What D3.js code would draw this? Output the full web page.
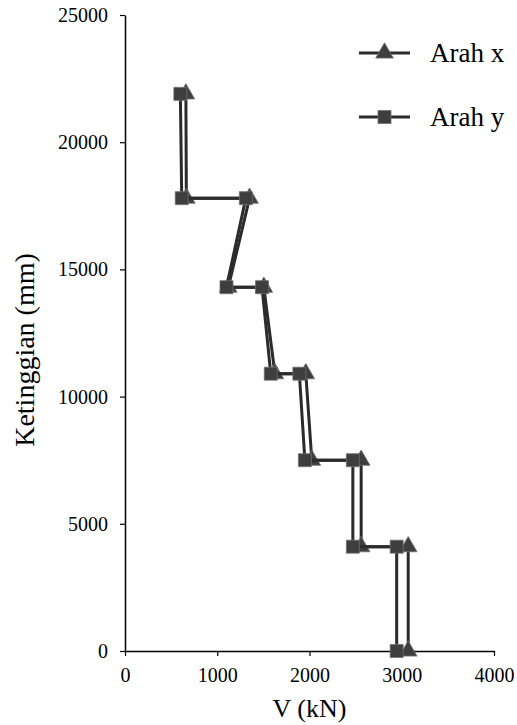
<!DOCTYPE html>
<html>
<head>
<meta charset="utf-8">
<script src="https://cdn.jsdelivr.net/npm/d3@7"></script>
<style>
  body { margin: 0; background: #fff; }
  svg { display: block; }
  text { font-family: "Liberation Serif", "Times New Roman", serif; fill: #000; }
</style>
</head>
<body>
<svg id="chart" width="517" height="725"></svg>
<script>
// storey levels (mm) and shear at each end of the step
var levelsX = [0, 4100, 4100, 7500, 7500, 10900, 10900, 14300, 14300, 17800, 17800, 21900];
var shearX  = [3070, 3070, 2560, 2560, 2025, 1960, 1625, 1505, 1120, 1350, 665, 660];

var levelsY = [0, 4100, 4100, 7500, 7500, 10900, 10900, 14300, 14300, 17800, 17800, 21900];
var shearY  = [2945, 2945, 2470, 2470, 1950, 1890, 1580, 1485, 1100, 1310, 615, 600];

var seriesNames = ['Arah x', 'Arah y'];
var xTicks = [0, 1000, 2000, 3000, 4000],
    yTicks = [0, 5000, 10000, 15000, 20000, 25000];

var LEFT = 125, RIGHT = 494, TOP = 15, BOTTOM = 651;
var LINE_COLOR = '#2b2b2b',
    MARK_FILL = '#3e3e3e',
    MARK_EDGE = '#707070';

var svg = d3.select('#chart');

var x = d3.scaleLinear().domain([0, 4000]).range([LEFT, RIGHT]),
    y = d3.scaleLinear().domain([0, 25000]).range([BOTTOM, TOP]);

// axes
var xAxis = svg.append('g')
    .attr('transform', 'translate(0,' + BOTTOM + ')')
    .call(d3.axisBottom(x).tickValues(xTicks).tickFormat(d3.format('d'))
        .tickSize(5).tickPadding(12).tickSizeOuter(0));
var yAxis = svg.append('g')
    .attr('transform', 'translate(' + LEFT + ',0)')
    .call(d3.axisLeft(y).tickValues(yTicks).tickFormat(d3.format('d'))
        .tickSize(5).tickPadding(12).tickSizeOuter(0));

[xAxis, yAxis].forEach(function (g) {
    g.select('.domain').attr('stroke', '#000').attr('stroke-width', 1.5);
    g.selectAll('.tick line').attr('stroke', '#000').attr('stroke-width', 1.2);
    g.selectAll('.tick text')
        .style('font-family', '"Liberation Serif", "Times New Roman", serif')
        .style('font-size', '20px')
        .attr('fill', '#000');
});

svg.append('text')
    .attr('x', (LEFT + RIGHT) / 2)
    .attr('y', 717)
    .attr('text-anchor', 'middle')
    .style('font-size', '26px')
    .text('V (kN)');

svg.append('text')
    .attr('transform', 'translate(34,350) rotate(-90)')
    .attr('text-anchor', 'middle')
    .style('font-size', '28px')
    .text('Ketinggian (mm)');

var line = d3.line()
    .x(function (d) { return x(d[0]); })
    .y(function (d) { return y(d[1]); });

var triangle = d3.symbol().type(d3.symbolTriangle).size(135),
    square = d3.symbol().type(d3.symbolSquare).size(169);

var series = [
    { name: seriesNames[0], pts: d3.zip(shearX, levelsX), sym: triangle },
    { name: seriesNames[1], pts: d3.zip(shearY, levelsY), sym: square }
];

series.forEach(function (s) {
    svg.append('path')
        .datum(s.pts)
        .attr('fill', 'none')
        .attr('stroke', LINE_COLOR)
        .attr('stroke-width', 3)
        .attr('d', line);

    svg.append('g').selectAll('path')
        .data(s.pts)
        .join('path')
        .attr('transform', function (d) { return 'translate(' + x(d[0]) + ',' + y(d[1]) + ')'; })
        .attr('d', s.sym)
        .attr('fill', MARK_FILL)
        .attr('stroke', MARK_EDGE)
        .attr('stroke-width', 0.8);
});

// legend
var legend = svg.append('g');
series.forEach(function (s, i) {
    var ly = 53 + i * 64;
    legend.append('line')
        .attr('x1', 359).attr('x2', 410)
        .attr('y1', ly).attr('y2', ly)
        .attr('stroke', LINE_COLOR)
        .attr('stroke-width', 3);
    legend.append('path')
        .attr('transform', 'translate(384.5,' + ly + ')')
        .attr('d', s.sym)
        .attr('fill', MARK_FILL)
        .attr('stroke', MARK_EDGE)
        .attr('stroke-width', 0.8);
    legend.append('text')
        .attr('x', 430)
        .attr('y', ly + 9)
        .style('font-size', '27px')
        .text(s.name);
});
</script>
</body>
</html>
